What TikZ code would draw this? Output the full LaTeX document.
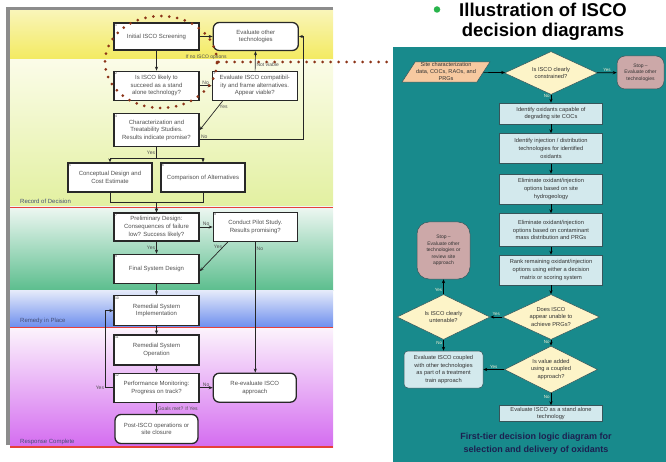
\documentclass[tikz,border=0pt]{standalone}
\usepackage{fontspec}
\setmainfont{Liberation Sans}
\usetikzlibrary{positioning,arrows.meta,shapes.geometric}

\definecolor{panelteal}{RGB}{24,138,140}
\definecolor{oxfill}{RGB}{211,233,237}
\definecolor{oxedge}{RGB}{55,85,90}
\definecolor{decfill}{RGB}{253,244,200}
\definecolor{stopfill}{RGB}{204,168,168}
\definecolor{infill}{RGB}{247,201,160}
\definecolor{capnavy}{RGB}{28,32,80}
\definecolor{bandred}{RGB}{230,64,58}
\definecolor{dotbrown}{RGB}{140,52,24}
\definecolor{framegray}{RGB}{140,140,140}
\definecolor{boxedge}{RGB}{40,40,40}
\definecolor{boxtext}{RGB}{80,80,80}
\definecolor{bandtext}{RGB}{70,80,120}
\definecolor{oxtext}{RGB}{50,50,50}
\definecolor{lblcream}{RGB}{240,238,210}
\definecolor{bulletgreen}{RGB}{40,180,75}
\definecolor{yellowA}{RGB}{249,245,185}
\definecolor{yellowB}{RGB}{243,234,95}
\definecolor{paleC}{RGB}{251,252,232}
\definecolor{limeD}{RGB}{226,240,160}
\definecolor{mintE}{RGB}{238,247,242}
\definecolor{greenF}{RGB}{92,190,142}
\definecolor{blueG}{RGB}{230,235,250}
\definecolor{blueH}{RGB}{110,143,238}
\definecolor{pinkI}{RGB}{252,244,252}
\definecolor{violetJ}{RGB}{212,108,240}

\begin{document}
\begin{tikzpicture}[
    x=1pt, y=-1pt,
    >={Stealth[length=4pt,width=3.2pt]},
    stepbox/.style={
        draw=boxedge,
        fill=white,
        line width=1.3pt,
        minimum width=85pt,
        minimum height=29pt,
        align=center,
        inner sep=1pt,
        font=\fontsize{6}{7.6}\selectfont,
        text=boxtext
    },
    termbox/.style={stepbox, rounded corners=6pt},
    num/.style={anchor=north west, font=\fontsize{3.5}{4}\selectfont, text=boxtext, inner sep=1.5pt},
    flow/.style={->, draw=black!85, line width=0.7pt},
    lbl/.style={font=\fontsize{5}{6}\selectfont, text=boxtext, inner sep=1pt},
    bandlabel/.style={anchor=west, font=\fontsize{6}{7}\selectfont, text=bandtext, inner sep=0pt},
    redline/.style={draw=bandred, line width=1.6pt},
    dotline/.style={draw=dotbrown, line width=3pt, line cap=round, dash pattern=on 0pt off 8pt},
    oxbox/.style={
        draw=oxedge,
        fill=oxfill,
        line width=0.5pt,
        minimum width=103pt,
        minimum height=30pt,
        align=center,
        inner sep=1pt,
        font=\fontsize{5.7}{7.6}\selectfont,
        text=oxtext
    },
    decision/.style={diamond, aspect=2.1, draw=oxedge, fill=decfill, line width=0.5pt,
        inner sep=0.5pt, align=center, font=\fontsize{5.7}{7.2}\selectfont, text=oxtext},
    stopbox/.style={draw=oxedge, fill=stopfill, line width=0.5pt, align=center,
        inner sep=1pt, font=\fontsize{5}{6.4}\selectfont, text=oxtext},
    oxflow/.style={->, draw=black, line width=0.7pt},
    oxlbl/.style={font=\fontsize{4.5}{5}\selectfont, text=lblcream, inner sep=1pt}
]
\useasboundingbox (0,0) rectangle (666,462);

% bands of the left chart
\shade[top color=yellowA, bottom color=yellowB] (10,10) rectangle (333,60);
\shade[top color=paleC, bottom color=limeD] (10,60) rectangle (333,207);
\shade[top color=mintE, bottom color=greenF] (10,207) rectangle (333,290);
\shade[top color=blueG, bottom color=blueH] (10,290) rectangle (333,327);
\shade[top color=pinkI, bottom color=violetJ] (10,327) rectangle (333,447);
\draw[framegray, line width=3.5pt] (8,445) -- (8,8.5) -- (333,8.5);
\draw[redline] (10,207.5) -- (333,207.5);
\draw[redline] (10,327.5) -- (333,327.5);
\draw[redline] (10,447) -- (333,447);

\node[bandlabel] (lRod) at (20,201) {Record of Decision};
\node[bandlabel] (lRip) at (20,321) {Remedy in Place};
\node[bandlabel] (lRc) at (20,441.5) {Response Complete};

% left flow chart
\node[stepbox, minimum height=27pt, label={[num]north west:1}] (s1) at (156.5,36.5) {Initial ISCO Screening};
\node[termbox, minimum height=28pt, right=13pt of s1] (eo) {Evaluate other\\technologies};
\node[stepbox, below=20pt of s1, label={[num]north west:2}] (s2) {Is ISCO likely to\\succeed as a stand\\alone technology?};
\node[stepbox, right=12pt of s2, label={[num]north west:3}] (cp) {Evaluate ISCO compatibil-\\ity and frame alternatives.\\Appear viable?};
\node[stepbox, minimum height=33pt, below=12pt of s2, label={[num]north west:4}] (s3) {Characterization and\\Treatability Studies.\\Results indicate promise?};
\node[stepbox, minimum width=84pt, label={[num]north west:5}] (concept) at (110,177.5) {Conceptual Design and\\Cost Estimate};
\node[stepbox, minimum width=84pt, label={[num]north west:6}] (compar) at (203,177.5) {Comparison of Alternatives};
\node[stepbox, minimum height=28pt, label={[num]north west:7}] (prelim) at (156.5,227) {Preliminary Design:\\Consequences of failure\\low? Success likely?};
\node[stepbox, minimum width=84pt, right=13pt of prelim, label={[num]north west:8}] (pilot) {Conduct Pilot Study.\\Results promising?};
\node[stepbox, below=12pt of prelim, label={[num]north west:9}] (final) {Final System Design};
\node[stepbox, minimum height=30pt, below=11pt of final, label={[num]north west:10}] (impl) {Remedial System\\Implementation};
\node[stepbox, minimum height=30pt, below=8pt of impl, label={[num]north west:11}] (oper) {Remedial System\\Operation};
\node[stepbox, below=7pt of oper, label={[num]north west:12}] (perf) {Performance Monitoring:\\Progress on track?};
\node[termbox, minimum width=83pt, right=13pt of perf] (reeval) {Re-evaluate ISCO\\approach};
\node[termbox, minimum width=83pt, below=11pt of perf] (post) {Post-ISCO operations or\\site closure};

\draw[flow] (s1) -- (s2);
\draw[flow] (s1) -- (eo) node[lbl, midway, below=17pt] (lNoOpt) {If no ISCO options};
\draw[flow] (s2) -- (cp) node[lbl, midway, above] (lNo1) {No};
\draw[flow] (cp) -- (eo) node[lbl, pos=0.3, right] (lNotViable) {Not viable};
\draw[flow] ([xshift=11pt]cp.south west) -- (s3.east) node[lbl, pos=0.2, right] (lYes1) {Yes};
\draw[flow] ([yshift=-9.5pt]s3.east) node[lbl, above right] (lNo2) {No} -- ++(104,0) |- (eo.east);
\draw[flow] (s3.south) -- ++(0,11) node[lbl, midway, left] (lYes2) {Yes} -| (concept.north);
\draw[flow] (s3.south) -- ++(0,11) -| (compar.north);
\draw[flow] (concept.south) -- ++(0,10) -| (prelim.north);
\draw[flow] (compar.south) -- ++(0,10) -| (prelim.north);
\draw[flow] (prelim) -- (pilot) node[lbl, midway, above] (lNo3) {No};
\draw[flow] (prelim) -- (final) node[lbl, midway, left] (lYes3) {Yes};
\draw[flow] ([xshift=15pt]pilot.south west) -- ([yshift=-2.5pt]final.east) node[lbl, pos=0.15, left] (lYes4) {Yes};
\draw[flow] (pilot.south) -- (pilot.south |- reeval.north) node[lbl, pos=0.05, right] (lNo4) {No};
\draw[flow] (final) -- (impl);
\draw[flow] (impl) -- (oper);
\draw[flow] (oper) -- (perf);
\draw[flow] (perf.west) -- ++(-8,0) node[lbl, left] (lYes5) {Yes} |- (impl.west);
\draw[flow] (perf) -- (reeval) node[lbl, midway, above] (lNo5) {No};
\draw[flow] (perf) -- (post) node[lbl, midway, right] (lGoals) {Goals met? If Yes};

% title and right panel
\node[circle, fill=bulletgreen, inner sep=0pt, minimum size=6.5pt] (bullet) at (437,9.5) {};
\node[font=\fontsize{18.5}{19.5}\selectfont\bfseries, align=center, inner sep=0pt] (title) at (543,22) {Illustration of ISCO\\decision diagrams};
\node[fill=panelteal, minimum width=273pt, minimum height=415pt, inner sep=0pt, outer sep=0pt, anchor=north west] (panel) at (393,47) {};

\node[trapezium, trapezium left angle=57, trapezium right angle=123, draw=oxedge, fill=infill,
      line width=0.5pt, inner sep=1pt, align=center, font=\fontsize{5.6}{7}\selectfont, text=oxtext] (inp) at (446,72) {Site characterization\\data, COCs, RAOs, and\\PRGs};
\node[decision, minimum width=93pt, minimum height=43pt] (d1) at (551,73) {Is ISCO clearly\\constrained?};
\node[stopbox, rounded corners=8pt, minimum width=47pt, minimum height=33pt] (stop1) at (640.5,72.5) {Stop --\\Evaluate other\\technologies};
\node[oxbox, minimum height=21pt, below=8pt of d1] (b1) {Identify oxidants capable of\\degrading site COCs};
\node[oxbox, below=9pt of b1] (b2) {Identify injection / distribution\\technologies for identified\\oxidants};
\node[oxbox, below=10pt of b2] (b3) {Eliminate oxidant/injection\\options based on site\\hydrogeology};
\node[oxbox, minimum height=33pt, below=9pt of b3] (b4) {Eliminate oxidant/injection\\options based on contaminant\\mass distribution and PRGs};
\node[oxbox, below=8pt of b4] (b5) {Rank remaining oxidant/injection\\options using either a decision\\matrix or scoring system};
\node[decision, minimum width=97pt, minimum height=45pt, below=9pt of b5] (d2) {Does ISCO\\appear unable to\\achieve PRGs?};
\node[decision, minimum width=93pt, minimum height=45pt, left=12pt of d2] (d3) {Is ISCO clearly\\untenable?};
\node[stopbox, rounded corners=12pt, minimum width=53pt, minimum height=57pt, above=15pt of d3] (stop2) {Stop --\\Evaluate other\\technologies or\\review site\\approach};
\node[decision, minimum width=93pt, minimum height=47pt, below=6pt of d2] (d4) {Is value added\\using a coupled\\approach?};
\node[oxbox, rounded corners=4pt, minimum width=79pt, minimum height=37pt, below=11pt of d3] (b6) {Evaluate ISCO coupled\\with other technologies\\as part of a treatment\\train approach};
\node[oxbox, minimum height=16pt, below=12pt of d4] (b7) {Evaluate ISCO as a stand alone\\technology};
\node[font=\fontsize{9}{13}\selectfont\bfseries, text=capnavy, align=center] (caption) at (536,443.5) {First-tier decision logic diagram for\\selection and delivery of oxidants};

\draw[oxflow] (inp) -- (d1);
\draw[oxflow] (d1) -- (stop1) node[oxlbl, midway, above] (rYes1) {Yes};
\draw[oxflow] (d1) -- (b1) node[oxlbl, pos=0.2, left] (rNo1) {No};
\draw[oxflow] (b1) -- (b2);
\draw[oxflow] (b2) -- (b3);
\draw[oxflow] (b3) -- (b4);
\draw[oxflow] (b4) -- (b5);
\draw[oxflow] (b5) -- (d2);
\draw[oxflow] (d2) -- (d3) node[oxlbl, midway, above] (rYes2) {Yes};
\draw[oxflow] (d3) -- (stop2) node[oxlbl, pos=0.3, left] (rYes3) {Yes};
\draw[oxflow] (d3) -- (b6) node[oxlbl, pos=0.3, left] (rNo2) {No};
\draw[oxflow] (d2) -- (d4) node[oxlbl, pos=0.3, left] (rNo3) {No};
\draw[oxflow] (d4) -- (b6) node[oxlbl, midway, above] (rYes4) {Yes};
\draw[oxflow] (d4) -- (b7) node[oxlbl, pos=0.3, left] (rNo4) {No};

% dotted callout
\node[ellipse, dotline, minimum width=112pt, minimum height=92pt] (callout) at (161,62) {};
\draw[dotline] (callout.east) -- (callout.east -| panel.west);

\end{tikzpicture}
\end{document}
